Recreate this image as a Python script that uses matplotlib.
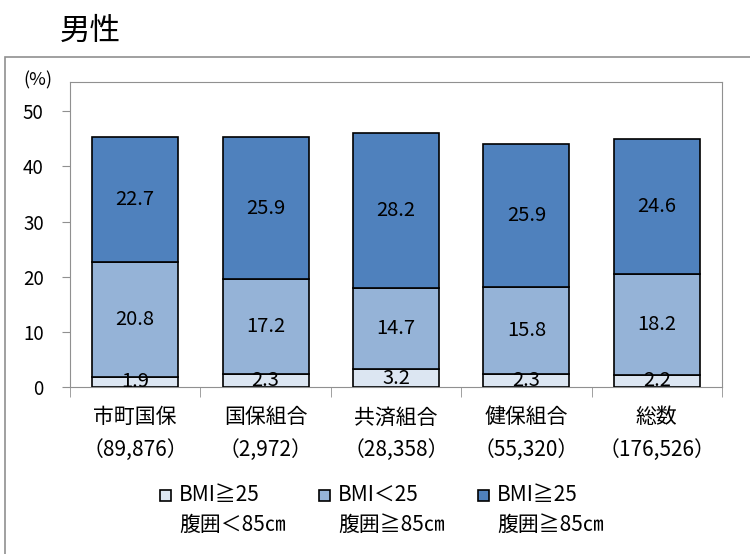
import matplotlib
matplotlib.use("Agg")
import matplotlib.pyplot as plt
import matplotlib.patches as mpatches
import numpy as np

plt.rcParams['font.family'] = ['Noto Sans CJK JP', 'DejaVu Sans']

categories = ["市町国保", "国保組合", "共済組合", "健保組合", "総数"]
counts = ["（89,876）", "（2,972）", "（28,358）", "（55,320）", "（176,526）"]
low = [1.9, 2.3, 3.2, 2.3, 2.2]     # BMI≧25 腹囲＜85㎝
mid = [20.8, 17.2, 14.7, 15.8, 18.2]  # BMI＜25 腹囲≧85㎝
high = [22.7, 25.9, 28.2, 25.9, 24.6]  # BMI≧25 腹囲≧85㎝
legend_labels = [("BMI≧25", "腹囲＜85㎝"), ("BMI＜25", "腹囲≧85㎝"), ("BMI≧25", "腹囲≧85㎝")]
colors = ["#DCE6F2", "#95B3D7", "#4F81BD"]

fig = plt.figure(figsize=(7.5, 5.54), dpi=100)
# outer frame
fig.patches.append(mpatches.Rectangle((5/750, -0.01), 750, 1 - 57/554 + 0.01, transform=fig.transFigure,
                                      fill=False, edgecolor="#909090", linewidth=1.2))
fig.text(60/750, 1 - 31/554, "男性", fontsize=22, va="center", ha="left")

ax = fig.add_axes([70/750, 167/554, 652/750, 305/554])
x = np.arange(len(categories))
w = 0.66
series = [low, mid, high]
bottom = np.zeros(len(categories))
for vals, c in zip(series, colors):
    vals = np.array(vals)
    ax.bar(x, vals, w, bottom=bottom, color=c, edgecolor="black", linewidth=1.2, zorder=3)
    for xi, b, v in zip(x, bottom, vals):
        ax.text(xi, b + v / 2, f"{v:.1f}", ha="center", va="center", fontsize=14.5, zorder=4)
    bottom += vals

ax.set_xlim(-0.5, len(categories) - 0.5)
ax.set_ylim(0, 55.3)
ax.set_yticks(range(0, 51, 10))
ax.set_xticks(x)
ax.set_xticklabels([f"{c}\n{n}" for c, n in zip(categories, counts)], fontsize=15, linespacing=1.6)
ax.set_xticks(np.arange(-0.5, len(categories), 1), minor=True)
ax.tick_params(axis="x", which="major", length=0, pad=14)
ax.tick_params(axis="x", which="minor", length=7, color="#909090", direction="out")
ax.tick_params(axis="y", length=6, color="#909090", labelsize=13.5, pad=13)
for s in ax.spines.values():
    s.set_color("#909090")
fig.text(38/750, 1 - 80/554, "(%)", ha="center", va="center", fontsize=13)

# legend drawn by hand
for i, (l1, l2) in enumerate(legend_labels):
    x0 = 160 + i * 159
    fig.patches.append(mpatches.Rectangle((x0/750, 1 - 501/554), 11/750, 11/554, transform=fig.transFigure,
                                          facecolor=colors[i], edgecolor="black", linewidth=1.2))
    fig.text((x0 + 19)/750, 1 - 495/554, l1, fontsize=15, va="center", ha="left")
    fig.text((x0 + 19)/750, 1 - 525/554, l2, fontsize=15, va="center", ha="left")

fig.savefig("out.png", dpi=100)
